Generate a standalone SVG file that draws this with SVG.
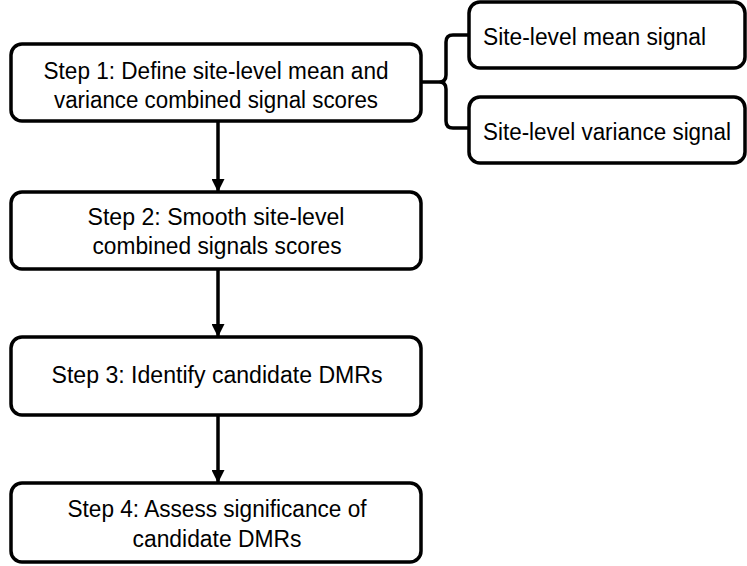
<svg xmlns="http://www.w3.org/2000/svg" width="747" height="566" viewBox="0 0 747 566">
<style>
.box{fill:#fff;stroke:#000;stroke-width:3.5}
.t{font-family:"Liberation Sans",Arial,sans-serif;font-size:23px;fill:#000;text-anchor:middle}
.t2{font-family:"Liberation Sans",Arial,sans-serif;font-size:23px;fill:#000}
.c{fill:none;stroke:#000;stroke-width:3.5}
</style>
<defs>
<marker id="ah" markerUnits="userSpaceOnUse" markerWidth="13" markerHeight="13" viewBox="0 0 13 13" refX="13" refY="6.5" orient="auto">
<path d="M0,0 L13,6.5 L0,13 Z" fill="#000"/>
</marker>
</defs>
<rect width="747" height="566" fill="#fff"/>
<g id="connectors">
<path class="c" d="M218,121 V192" marker-end="url(#ah)"/>
<path class="c" d="M218,269 V337" marker-end="url(#ah)"/>
<path class="c" d="M218,415 V483" marker-end="url(#ah)"/>
<path class="c" d="M421,82 H439 Q446,82 446,75 V42 Q446,35 453,35 H469 M439,82 Q446,82 446,89 V121 Q446,128 453,128 H469"/>
</g>
<g id="step1">
<rect class="box" x="11" y="44" width="410" height="77" rx="11"/>
<text class="t" x="216" y="79" textLength="345" lengthAdjust="spacingAndGlyphs">Step 1: Define site-level mean and</text>
<text class="t" x="216" y="108" textLength="324" lengthAdjust="spacingAndGlyphs">variance combined signal scores</text>
</g>
<g id="step2">
<rect class="box" x="11" y="192" width="410" height="77" rx="11"/>
<text class="t" x="216" y="225" textLength="257" lengthAdjust="spacingAndGlyphs">Step 2: Smooth site-level</text>
<text class="t" x="217" y="254" textLength="249" lengthAdjust="spacingAndGlyphs">combined signals scores</text>
</g>
<g id="step3">
<rect class="box" x="11" y="337" width="410" height="78" rx="11"/>
<text class="t" x="217" y="383" textLength="331" lengthAdjust="spacingAndGlyphs">Step 3: Identify candidate DMRs</text>
</g>
<g id="step4">
<rect class="box" x="11" y="483" width="410" height="79" rx="11"/>
<text class="t" x="217" y="517" textLength="299" lengthAdjust="spacingAndGlyphs">Step 4: Assess significance of</text>
<text class="t" x="217" y="547" textLength="169" lengthAdjust="spacingAndGlyphs">candidate DMRs</text>
</g>
<g id="mean">
<rect class="box" x="469" y="2" width="276" height="66" rx="11"/>
<text class="t2" x="483" y="45" textLength="223" lengthAdjust="spacingAndGlyphs">Site-level mean signal</text>
</g>
<g id="variance">
<rect class="box" x="469" y="97" width="276" height="66" rx="11"/>
<text class="t2" x="483" y="140" textLength="248" lengthAdjust="spacingAndGlyphs">Site-level variance signal</text>
</g>
</svg>
